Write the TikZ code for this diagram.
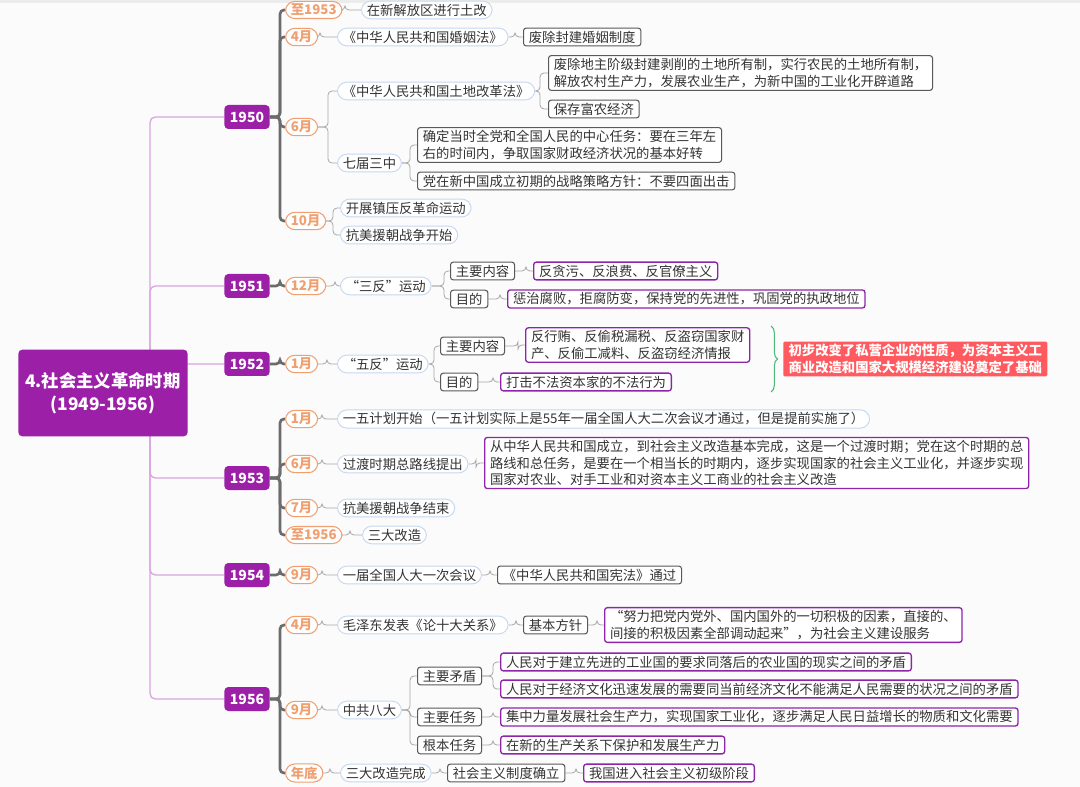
\documentclass[tikz,border=0pt]{standalone}
\usepackage{fontspec}
\setmainfont{Noto Sans CJK SC}
\usetikzlibrary{backgrounds,decorations.pathreplacing}
\definecolor{txt}{HTML}{333333}
\definecolor{purp}{HTML}{8E24AA}
\definecolor{purp2}{HTML}{9C1FA8}
\definecolor{orng}{HTML}{F0A070}
\definecolor{pillb}{HTML}{C5D8F0}
\definecolor{rootl}{HTML}{D9A6E0}
\definecolor{redb}{HTML}{FF5A5F}
\definecolor{grn}{HTML}{4CB87A}
\newcommand\br[4][ln]{\draw[#1,rounded corners=3pt] (#2.east) -- (#2.east -| #4,0) |- (#3.west);}
\tikzset{
 base/.style={font=\fontsize{10}{12.5}\selectfont, text=txt, inner xsep=4pt, inner ysep=2pt, anchor=west},
 pill/.style={base, draw=pillb, rounded corners=7pt, fill=white, line width=0.7pt},
 mon/.style={base, draw=orng, text=orng, rounded corners=7pt, fill=white, line width=0.8pt, font=\bfseries\fontsize{10}{12.5}\selectfont},
 gbox/.style={base, draw=gray!70!black, rounded corners=2pt, fill=white, line width=0.8pt, align=left},
 pbox/.style={base, draw=purp, rounded corners=2pt, fill=white, line width=1pt, align=left},
 yr/.style={fill=purp2, text=white, font=\bfseries\fontsize{10.5}{12}\selectfont, rounded corners=3pt, minimum width=34pt, minimum height=18pt, inner sep=0pt, anchor=center},
 ln/.style={draw=gray!70, line width=0.6pt},
 yl/.style={draw=gray!85!black, line width=2pt},
 rl/.style={draw=rootl, line width=1pt}
}
\begin{document}
\begin{tikzpicture}[x=0.75pt,y=-0.75pt]
\useasboundingbox (0,0) rectangle (1080,787);
\node[fill=purp2,text=white,font=\bfseries\fontsize{13}{17}\selectfont,rounded corners=3pt,minimum width=127pt,minimum height=65pt,align=center] (root) at (103,393) {4.社会主义革命时期\\(1949-1956)};
% years
\node[yr] (y50) at (247,117) {1950};
\node[yr] (y51) at (247,286) {1951};
\node[yr] (y52) at (247,364) {1952};
\node[yr] (y53) at (247,478) {1953};
\node[yr] (y54) at (247,575) {1954};
\node[yr] (y56) at (247,699) {1956};
% 1950
\node[mon] (m501) at (285,10) {至1953};
\node[mon] (m502) at (285,37) {4月};
\node[mon] (m503) at (285,127) {6月};
\node[mon] (m504) at (285,221) {10月};
\node[pill] (a1) at (361,10) {在新解放区进行土改};
\node[pill] (a2) at (337,37) {《中华人民共和国婚姻法》};
\node[gbox] (a3) at (523,37) {废除封建婚姻制度};
\node[pill] (a4) at (337,91) {《中华人民共和国土地改革法》};
\node[pill] (a5) at (337,163) {七届三中};
\node[gbox] (a6) at (548,73) {废除地主阶级封建剥削的土地所有制，实行农民的土地所有制，\\解放农村生产力，发展农业生产，为新中国的工业化开辟道路};
\node[gbox] (a7) at (548,109) {保存富农经济};
\node[gbox] (a8) at (417,145) {确定当时全党和全国人民的中心任务：要在三年左\\右的时间内，争取国家财政经济状况的基本好转};
\node[gbox] (a9) at (417,181) {党在新中国成立初期的战略策略方针：不要四面出击};
\node[pill] (a10) at (340,208) {开展镇压反革命运动};
\node[pill] (a11) at (340,235) {抗美援朝战争开始};
% 1951
\node[mon] (m511) at (285,286) {12月};
\node[pill] (b1) at (340,286) {“三反”运动};
\node[gbox] (b2) at (450,271) {主要内容};
\node[gbox] (b3) at (450,299) {目的};
\node[pbox] (b4) at (533,271) {反贪污、反浪费、反官僚主义};
\node[pbox] (b5) at (507,299) {惩治腐败，拒腐防变，保持党的先进性，巩固党的执政地位};
% 1952
\node[mon] (m521) at (285,364) {1月};
\node[pill] (c1) at (337,364) {“五反”运动};
\node[gbox] (c2) at (440,346) {主要内容};
\node[gbox] (c3) at (440,382) {目的};
\node[pbox] (c4) at (525,345) {反行贿、反偷税漏税、反盗窃国家财\\产、反偷工减料、反盗窃经济情报};
\node[pbox] (c5) at (500,382) {打击不法资本家的不法行为};
\node[base,fill=redb,text=white,font=\bfseries\fontsize{10}{12.5}\selectfont,align=left,rounded corners=1pt] (c6) at (783,359) {初步改变了私营企业的性质，为资本主义工\\商业改造和国家大规模经济建设奠定了基础};
\draw[grn,line width=0.8pt,decorate,decoration={brace,amplitude=5pt}] (771,326) -- (771,392);
% 1953
\node[mon] (m531) at (285,419) {1月};
\node[mon] (m532) at (285,464) {6月};
\node[mon] (m533) at (285,508) {7月};
\node[mon] (m534) at (285,535) {至1956};
\node[pill] (d1) at (337,419) {一五计划开始（一五计划实际上是55年一届全国人大二次会议才通过，但是提前实施了）};
\node[pill] (d2) at (337,464) {过渡时期总路线提出};
\node[pbox] (d3) at (484,463) {从中华人民共和国成立，到社会主义改造基本完成，这是一个过渡时期；党在这个时期的总\\路线和总任务，是要在一个相当长的时期内，逐步实现国家的社会主义工业化，并逐步实现\\国家对农业、对手工业和对资本主义工商业的社会主义改造};
\node[pill] (d4) at (337,508) {抗美援朝战争结束};
\node[pill] (d5) at (362,535) {三大改造};
% 1954
\node[mon] (m541) at (285,575) {9月};
\node[pill] (e1) at (337,575) {一届全国人大一次会议};
\node[gbox] (e2) at (497,575) {《中华人民共和国宪法》通过};
% 1956
\node[mon] (m561) at (285,625) {4月};
\node[mon] (m562) at (285,710) {9月};
\node[mon] (m563) at (285,773) {年底};
\node[pill] (f1) at (337,625) {毛泽东发表《论十大关系》};
\node[gbox] (f2) at (523,625) {基本方针};
\node[pbox] (f3) at (604,625) {“努力把党内党外、国内国外的一切积极的因素，直接的、\\间接的积极因素全部调动起来”，为社会主义建设服务};
\node[pill] (f4) at (337,710) {中共八大};
\node[gbox] (f5) at (417,676) {主要矛盾};
\node[gbox] (f6) at (417,717) {主要任务};
\node[gbox] (f7) at (417,745) {根本任务};
\node[pbox] (f8) at (500,662) {人民对于建立先进的工业国的要求同落后的农业国的现实之间的矛盾};
\node[pbox] (f9) at (500,689) {人民对于经济文化迅速发展的需要同当前经济文化不能满足人民需要的状况之间的矛盾};
\node[pbox] (f10) at (500,717) {集中力量发展社会生产力，实现国家工业化，逐步满足人民日益增长的物质和文化需要};
\node[pbox] (f11) at (500,745) {在新的生产关系下保护和发展生产力};
\node[pill] (f12) at (340,773) {三大改造完成};
\node[gbox] (f13) at (447,773) {社会主义制度确立};
\node[pbox] (f14) at (583,773) {我国进入社会主义初级阶段};
\begin{pgfonlayer}{background}
\fill[white!97!gray] (0,0) rectangle (1080,787);
\fill[gray!15] (0,0) rectangle (1080,3);
\foreach \y in {y50,y51,y52,y53,y54,y56}{
 \draw[rl,rounded corners=4pt] (root.center) -- (root.center -| 150,0) |- (\y.west);}
\foreach \p/\c in {y50/m501,y50/m502,y50/m503,y50/m504,y51/m511,y52/m521,y53/m531,y53/m532,y53/m533,y53/m534,y54/m541,y56/m561,y56/m562,y56/m563}{
 \br[yl]{\p}{\c}{280}}
\br{m501}{a1}{345}
\br{m502}{a2}{320}
\br{a2}{a3}{515}
\br{m503}{a4}{328}
\br{m503}{a5}{328}
\br{a4}{a6}{540}
\br{a4}{a7}{540}
\br{a5}{a8}{410}
\br{a5}{a9}{410}
\br{m504}{a10}{333}
\br{m504}{a11}{333}
\br{m511}{b1}{335}
\br{b1}{b2}{444}
\br{b1}{b3}{444}
\br{b2}{b4}{526}
\br{b3}{b5}{500}
\br{m521}{c1}{327}
\br{c1}{c2}{434}
\br{c1}{c3}{434}
\br{c2}{c4}{518}
\br{c3}{c5}{493}
\br{m531}{d1}{322}
\br{m532}{d2}{322}
\br{d2}{d3}{476}
\br{m533}{d4}{322}
\br{m534}{d5}{350}
\br{m541}{e1}{322}
\br{e1}{e2}{490}
\br{m561}{f1}{322}
\br{f1}{f2}{516}
\br{f2}{f3}{597}
\br{m562}{f4}{322}
\br{f4}{f5}{410}
\br{f4}{f6}{410}
\br{f4}{f7}{410}
\br{f5}{f8}{493}
\br{f5}{f9}{493}
\br{f6}{f10}{493}
\br{f7}{f11}{493}
\br{m563}{f12}{330}
\br{f12}{f13}{440}
\br{f13}{f14}{576}
\end{pgfonlayer}
\end{tikzpicture}
\end{document}
